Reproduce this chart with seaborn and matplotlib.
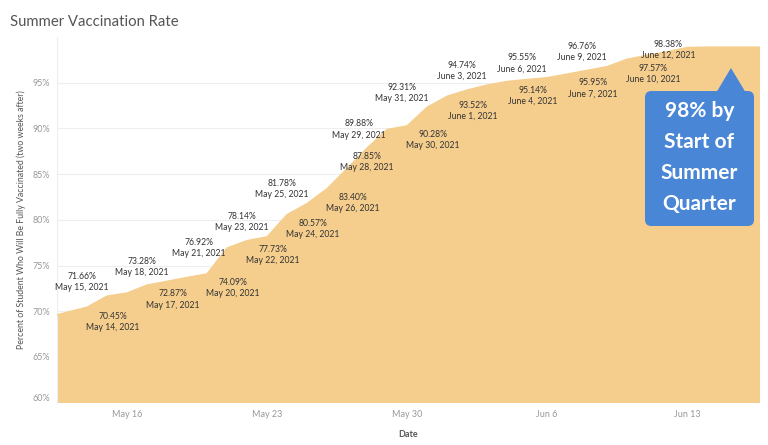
import pandas as pd
import matplotlib
matplotlib.use("Agg")
import matplotlib.pyplot as plt
from matplotlib.patches import FancyBboxPatch, Polygon
import seaborn as sns

# Daily share of students fully vaccinated (two weeks after)
dates = pd.date_range("2021-05-12", "2021-06-17", freq="D")
rates = [69.3, 69.9, 70.45, 71.66, 72.0, 72.87, 73.28, 73.7, 74.09, 76.92,
         77.73, 78.14, 80.57, 81.78, 83.40, 85.6, 87.85, 89.88, 90.28, 92.31,
         93.52, 94.2, 94.74, 95.14, 95.35, 95.55, 95.95, 96.35, 96.76, 97.57,
         98.0, 98.38, 98.85, 98.9, 98.9, 98.9, 98.9]

# Labelled days and where the label sits relative to the point
label_days = ["2021-05-14", "2021-05-15", "2021-05-17", "2021-05-18", "2021-05-20",
              "2021-05-21", "2021-05-22", "2021-05-23", "2021-05-24", "2021-05-25",
              "2021-05-26", "2021-05-28", "2021-05-29", "2021-05-30", "2021-05-31",
              "2021-06-01", "2021-06-03", "2021-06-04", "2021-06-06", "2021-06-07",
              "2021-06-09", "2021-06-10", "2021-06-12"]
label_place = ["br", "tl", "br", "tl", "br", "l", "br", "tl", "br", "tl",
               "br", "b", "l", "br", "tl", "br", "tl", "br", "tl", "br",
               "tl", "br", "c"]

tick_days = ["2021-05-16", "2021-05-23", "2021-05-30", "2021-06-06", "2021-06-13"]
y_ticks = [60, 65, 70, 75, 80, 85, 90, 95]

df = pd.DataFrame({"Date": dates, "Rate": rates})

sns.set_theme(style="white")
plt.rcParams["font.family"] = ["Lato", "DejaVu Sans"]

area_color = "#F5CE8E"
fig = plt.figure(figsize=(7.68, 4.45), dpi=100)
ax = fig.add_axes([57 / 768, 1 - 402.7 / 445, 703 / 768, 365.7 / 445])

ax.fill_between(df["Date"], df["Rate"], 0, color=area_color, lw=0, zorder=2)
sns.lineplot(data=df, x="Date", y="Rate", ax=ax, color=area_color, lw=1, zorder=3)

ax.set_xlim(pd.Timestamp("2021-05-12 12:00"), pd.Timestamp("2021-06-16 15:30"))
ax.set_ylim(60, 100)

ax.set_yticks(y_ticks)
ax.set_yticklabels([f"{v}%" for v in y_ticks], fontsize=6.5, color="#999999")
# bottom label is nudged up like the original
ax.get_yticklabels()[0].set_verticalalignment("bottom")
ax.yaxis.grid(True, color="#EEEEEE", lw=0.8, zorder=0)
ax.xaxis.grid(False)

tick_ts = [pd.Timestamp(d) for d in tick_days]
ax.set_xticks(tick_ts)
ax.set_xticklabels([f"{d:%b} {d.day}" for d in tick_ts], fontsize=6.5, color="#999999")
ax.tick_params(axis="both", length=0, pad=5)

ax.set_xlabel("Date", fontsize=6.5, color="#555555", fontweight="bold", labelpad=8)
ax.set_ylabel("Percent of Student Who Will Be Fully Vaccinated (two weeks after)",
              fontsize=6.3, color="#555555")
ax.yaxis.set_label_coords(-0.0435, 0.5)

for side in ["top", "right", "bottom"]:
    ax.spines[side].set_visible(False)
ax.spines["left"].set_color("#EEEEEE")
ax.spines["left"].set_linewidth(0.8)

# point labels
offsets = {"br": (26, -14.5), "tl": (-25, 14.5), "l": (-28, 0), "b": (0, -14), "c": (1, 2)}
rate_by_day = dict(zip(df["Date"], df["Rate"]))
for day, place in zip(label_days, label_place):
    d = pd.Timestamp(day)
    v = rate_by_day[d]
    ax.annotate(f"{v:.2f}%\n{d:%B} {d.day}, {d.year}", xy=(d, v),
                xytext=offsets[place], textcoords="offset pixels",
                ha="center", va="center", fontsize=6.2, color="#333333",
                linespacing=1.3, zorder=5)

# callout box
blue = "#4A86D6"
box = FancyBboxPatch((0.8364, 0.4832), 0.9915 - 0.8364, 0.8523 - 0.4832,
                     boxstyle="round,pad=0,rounding_size=0.009",
                     mutation_aspect=703 / 365.7, transform=ax.transAxes,
                     facecolor=blue, edgecolor="none", zorder=6)
ax.add_patch(box)
tri = Polygon([(0.9388, 0.8513), (0.9787, 0.8513), (0.9587, 0.9152)], closed=True,
              transform=ax.transAxes, facecolor=blue, edgecolor="none", zorder=6)
ax.add_patch(tri)
ax.text(0.9139, 0.6700, "98% by\nStart of\nSummer\nQuarter", transform=ax.transAxes,
        ha="center", va="center", fontsize=15, fontweight="bold", color="white",
        linespacing=1.68, zorder=7)

fig.text(10 / 768, 1 - 22 / 445, "Summer Vaccination Rate", fontsize=10.7,
         color="#555555", ha="left", va="center")

fig.savefig("out.png", dpi=100)
